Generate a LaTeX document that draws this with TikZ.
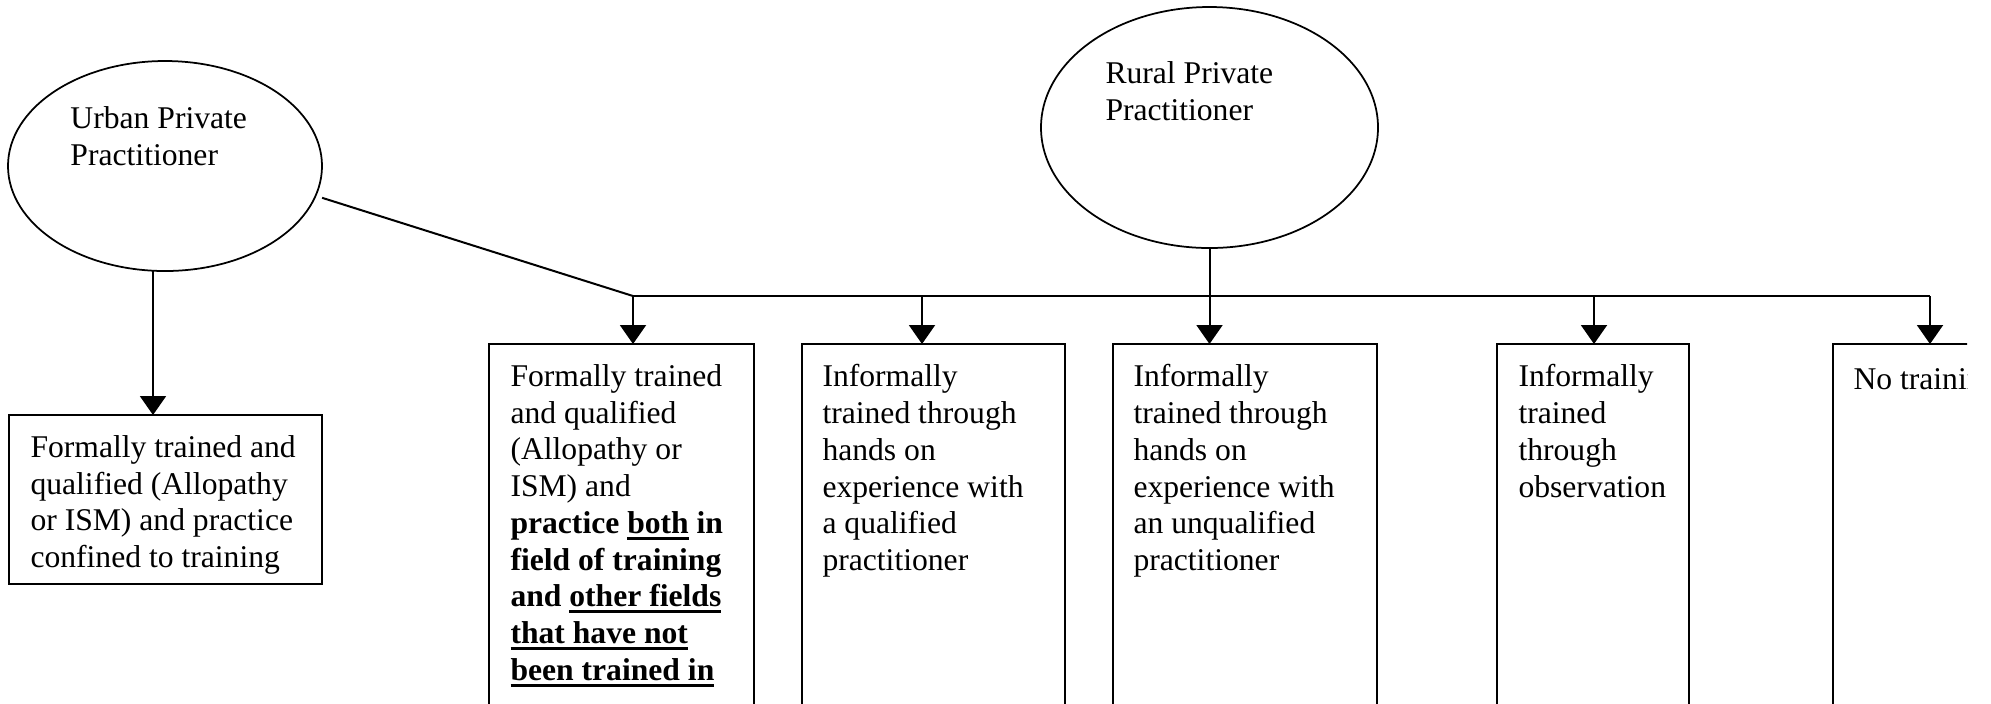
\documentclass[tikz,border=0pt]{standalone}
\usepackage{fontspec}
\setmainfont{Liberation Serif}
\usetikzlibrary{positioning,arrows.meta,shapes.geometric,calc}
\newcommand{\undl}[1]{\setbox0\hbox{#1}\leavevmode\rlap{\rule[-2.6pt]{\wd0}{1.2pt}}\box0\relax}
\tikzset{
  oval/.style={ellipse, draw=black, line width=0.7pt, inner sep=0pt, outer sep=0pt},
  box/.style={rectangle, draw=black, line width=0.8pt, anchor=north west,
    inner sep=0pt, outer sep=0pt},
  txt/.style={align=left, inner sep=0pt, anchor=north west,
    font=\fontsize{12.65}{14.7}\selectfont,
    execute at begin node={\rule{0pt}{10pt}}},
  link/.style={line width=0.8pt, draw=black},
  arrowlink/.style={link, -{Triangle[width=10.4pt,length=7.6pt]}}
}

\begin{document}
\begin{tikzpicture}[x=0.4pt, y=-0.4pt]
    \useasboundingbox (0,0) rectangle (1991,703);

    \node[oval, minimum width=125.6pt, minimum height=84pt] (urban) at (165,166) {};
    \node[oval, minimum width=134.8pt, minimum height=96.4pt] (rural) at (1209.5,127.5) {};
    \node[txt, above left=24pt and 38pt of urban.center, anchor=north west] (urbantxt)
      {Urban Private\\Practitioner};
    \node[txt, above left=26.6pt and 41.8pt of rural.center, anchor=north west] (ruraltxt)
      {Rural Private\\Practitioner};

    \node[box, minimum width=125.2pt, minimum height=67.6pt] (b1) at (9,415) {};
    \node[box, minimum width=106pt,   minimum height=152pt] (b2) at (489,344) {};
    \node[box, minimum width=105.2pt, minimum height=152pt] (b3) at (802,344) {};
    \node[box, minimum width=105.6pt, minimum height=152pt] (b4) at (1113,344) {};
    \node[box, minimum width=76.8pt,  minimum height=152pt] (b5) at (1497,344) {};

    \node[txt, below right=8pt and 8.4pt of b1.north west, anchor=north west] (t1)
      {Formally trained and\\qualified (Allopathy\\or ISM) and practice\\confined to training};
    \node[txt, below right=8pt and 8.4pt of b2.north west, anchor=north west] (t2)
      {Formally trained\\and qualified\\(Allopathy or\\ISM) and\\
       \textbf{practice \undl{both} in}\\\textbf{field of training}\\
       \textbf{and \undl{other fields}}\\\textbf{\undl{that have not}}\\
       \textbf{\undl{been trained in}}};
    \node[txt, below right=8pt and 8pt of b3.north west, anchor=north west] (t3)
      {Informally\\trained through\\hands on\\experience with\\a qualified\\practitioner};
    \node[txt, below right=8pt and 8pt of b4.north west, anchor=north west] (t4)
      {Informally\\trained through\\hands on\\experience with\\an unqualified\\practitioner};
    \node[txt, below right=8pt and 8.4pt of b5.north west, anchor=north west] (t5)
      {Informally\\trained\\through\\observation};

    \begin{scope}
      \clip (0,0) rectangle (1967,703);
      \node[box, minimum width=105.6pt, minimum height=152pt] (b6) at (1833,344) {};
      \node[txt, below right=8pt and 8pt of b6.north west, anchor=north west] (t6)
        {No training};
    \end{scope}

    \coordinate (d2) at (633,296);
    \coordinate (d3) at (922,296);
    \coordinate (d5) at (1594,296);
    \coordinate (d6) at (1930,296);

    \draw[link] ([xshift=3pt]urban.-12) -- (d2);
    \draw[link] (d2) -- (d6);
    \draw[arrowlink] ([xshift=-4.8pt]urban.south) -- ([xshift=-4.8pt]urban.south |- b1.north);
    \draw[arrowlink] (rural.south) -- (rural.south |- b4.north);
    \foreach \d/\b in {d2/b2, d3/b3, d5/b5, d6/b6}
      \draw[arrowlink] (\d) -- (\d |- \b.north);
\end{tikzpicture}
\end{document}
